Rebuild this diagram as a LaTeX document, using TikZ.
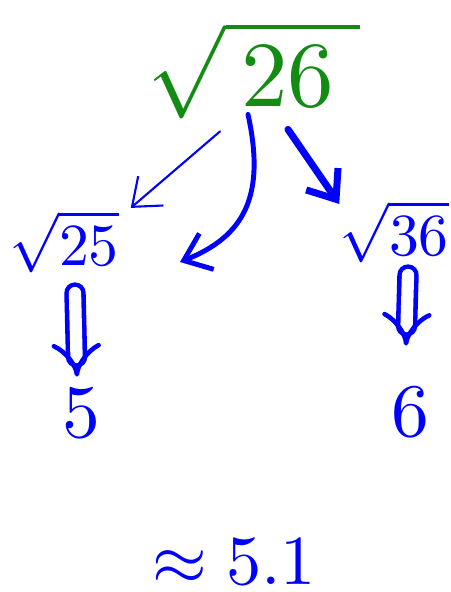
\documentclass[tikz,border=0pt]{standalone}
\usepackage{amsmath}
\usepackage{tikz}
\usetikzlibrary{arrows.meta, calc}

\definecolor{inkgreen}{RGB}{20,140,20}
\definecolor{inkblue}{RGB}{0,0,255}

\begin{document}
\begin{tikzpicture}[x=0.02cm, y=-0.02cm,
    every node/.style={inner sep=0pt, outer sep=0pt},
    ink/.style={inkblue, line cap=round, line join=round},
    barb/.style={-{Straight Barb[length=14pt, width=22pt]}},
    implies/.style={ink, double, double distance=7pt, line width=2.6pt, -{Implies[length=14pt, width=30pt]}}]
  \useasboundingbox (0,0) rectangle (450,592);

  % Top: the root to estimate (green)
  \node[inkgreen, scale=5.3] (root) at (254,70) {$\sqrt{\,26\;}$};

  % The two perfect squares
  \node[inkblue, scale=3.4] (left) at (64,242) {$\sqrt{25}$};
  \node[inkblue, scale=3.4] (right) at (394,232) {$\sqrt{36}$};

  % Their roots
  \node[inkblue, scale=4.3] (five) at (81,413) {$5$};
  \node[inkblue, scale=4.3] (six) at (410,412) {$6$};

  % Estimate
  \node[inkblue, scale=4] (approx) at (234,562) {$\approx 5.1$};

  % Arrows from the root
  \coordinate (mid) at (180,262);
  \draw[ink, line width=1.2pt, barb] ($(root.south)+(-34,13)$) -- ($(left.north east)+(12,-3)$);
  \draw[ink, line width=2.8pt, barb] ($(root.south)+(-6,-4)$)
    .. controls ($(root.south)+(12,78)$) and ($(root.south)+(-10,118)$) .. (mid);
  \draw[ink, line width=4pt, barb] ($(root.south)+(34,11)$) -- ($(right.north west)+(0,3)$);

  % Square roots
  \draw[implies] ($(left.south)+(11,20)$) -- ($(five.north)+(-4,-12)$);
  \draw[implies] ($(right.south)+(14,12)$) -- ($(six.north)+(-4,-42)$);
\end{tikzpicture}
\end{document}
